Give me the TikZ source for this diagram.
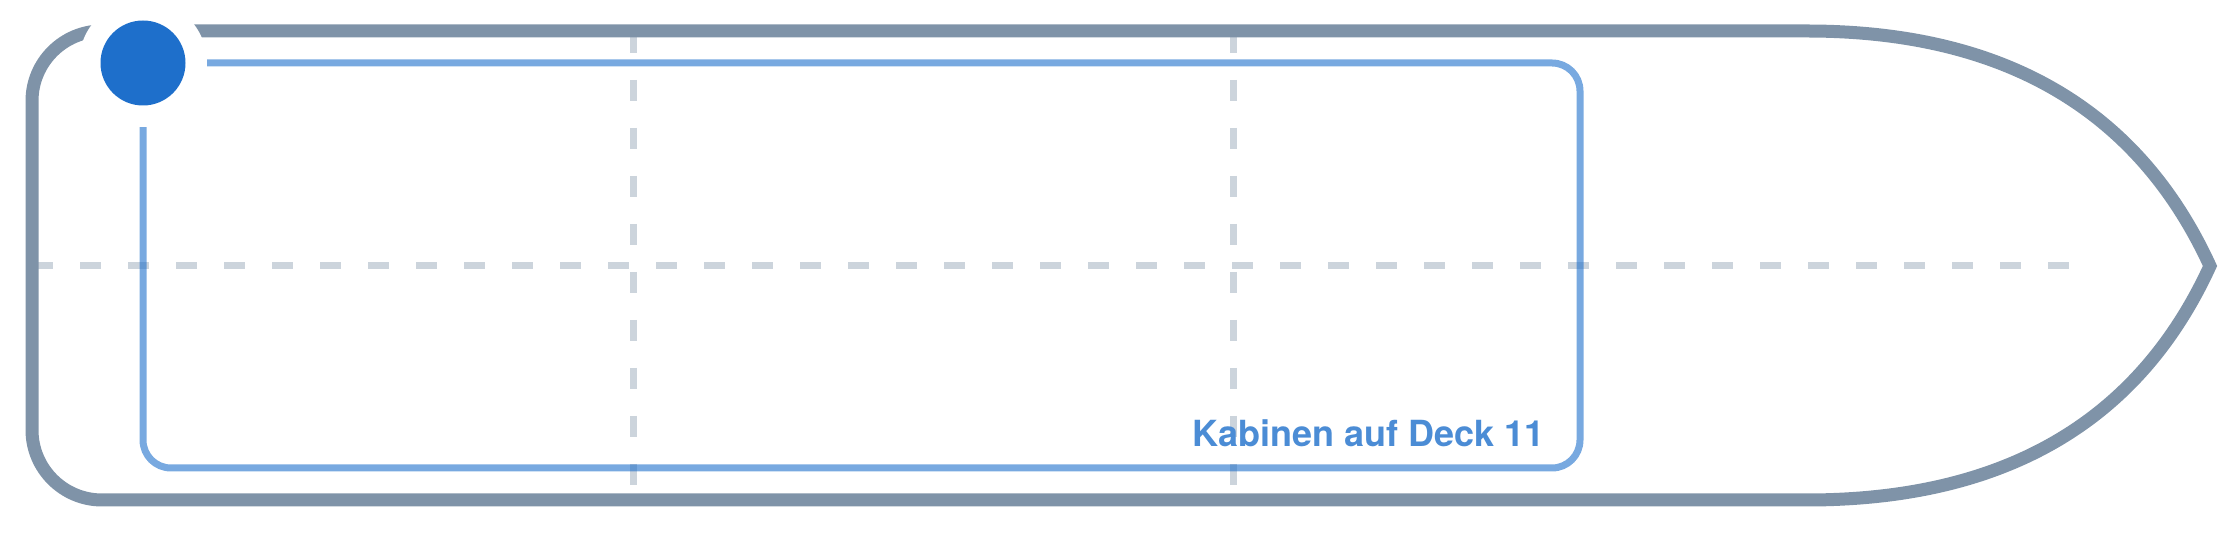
\documentclass[tikz,border=0pt]{standalone}
\usepackage{fontspec}
\newfontfamily\decklabelfont{TeX Gyre Heros}
\usetikzlibrary{calc}
\definecolor{hullgray}{HTML}{7F93A8}
\definecolor{markerblue}{HTML}{1E6FCB}

\begin{document}
\begin{tikzpicture}[
  x=0.5pt, y=-0.5pt,
  hull/.style={
    % The border:
    draw=hullgray,
    line width=6.5pt
  },
  cabins/.style={
    draw=markerblue,
    draw opacity=0.6,
    line width=3.5pt,
    rounded corners=14pt
  },
  gridline/.style={
    draw=hullgray,
    draw opacity=0.4,
    line width=3.5pt,
    dash pattern=on 10.5pt off 13.5pt
  },
  marker/.style={
    circle,
    fill=markerblue,
    minimum size=42.5pt,
    inner sep=0pt
  },
  decklabel/.style={
    font=\decklabelfont\bfseries\fontsize{18pt}{20pt}\selectfont,
    text=markerblue!80!white,
    anchor=base east,
    inner sep=0pt
  },
  ]

  \useasboundingbox (0,0) rectangle (2240,533);

  % grid of the deck
  \coordinate (stern mid) at (32,266);
  \coordinate (bow mid) at (2069,266);
  \draw [gridline] (stern mid) -- (bow mid);
  \foreach \i/\x in {1/633, 2/1233}
  {
    \coordinate (top \i) at (\x,32);
    \coordinate (bottom \i) at (\x,500);
    \draw [gridline] (top \i) -- (bottom \i);
  }

  % cabins
  \coordinate (cabins nw) at (143,63);
  \coordinate (cabins se) at (1580,468);
  \draw [cabins] (cabins nw) rectangle (cabins se);

  % hull with the bow
  \coordinate (bow tip) at (2210,266);
  \draw [hull] (1807,500) -- (102,500)
    arc [start angle=270, end angle=180, radius=35pt] -- (32,101)
    arc [start angle=180, end angle=90, radius=35pt] -- (1807,31)
    .. controls (2003,31) and (2138,109) .. (bow tip)
    .. controls (2138,423) and (2003,500) .. (1807,500) -- cycle;

  % position marker
  \fill [white] (cabins nw) circle [radius=32pt];
  \node (marker) [marker] at (cabins nw) {};

  \node (deck) [decklabel] at (1545,447) {Kabinen auf Deck 11};

\end{tikzpicture}
\end{document}
